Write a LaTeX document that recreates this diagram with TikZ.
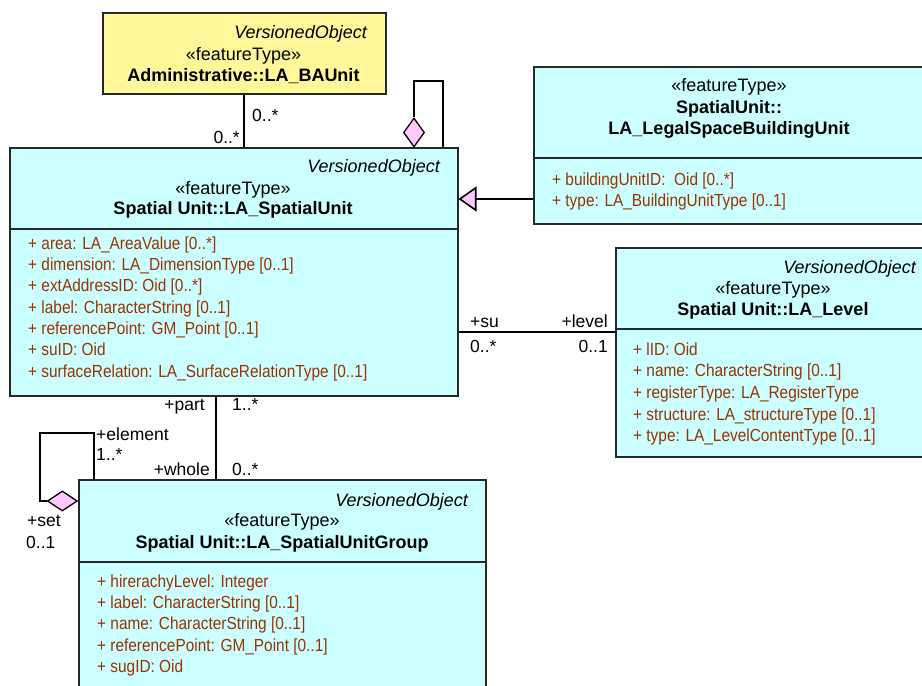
\documentclass[tikz,border=0pt]{standalone}
\usepackage{fontspec}
\setmainfont{Liberation Sans}
\newfontfamily\attrfont[FakeStretch=0.88]{Liberation Sans}
\usepackage{tikz}
\usetikzlibrary{shapes.geometric,arrows.meta,positioning}
\definecolor{ClassCyan}{RGB}{204,255,255}
\definecolor{ClassYellow}{RGB}{255,247,153}
\definecolor{DiamondPink}{RGB}{255,200,255}
\definecolor{AttrBrown}{RGB}{153,51,0}
\definecolor{BorderGray}{RGB}{40,40,40}

\begin{document}
\begin{tikzpicture}[
  x=1pt, y=-1pt,
  classbox/.style={draw=BorderGray, line width=1.5pt, fill=ClassCyan, anchor=north west, inner sep=0pt},
  basebox/.style={classbox, fill=ClassYellow},
  divider/.style={draw=BorderGray, line width=1.5pt},
  parent/.style={font=\fontsize{18}{20}\selectfont\itshape, anchor=base east, inner sep=0pt},
  stereo/.style={font=\fontsize{18}{20}\selectfont, anchor=base, inner sep=0pt},
  cname/.style={font=\fontsize{18}{20}\selectfont\bfseries, anchor=base, inner sep=0pt},
  attr/.style={font=\attrfont\fontsize{17.5}{20}\selectfont, text=AttrBrown, anchor=base west, inner sep=0pt},
  role/.style={font=\fontsize{17.5}{20}\selectfont, inner sep=0pt},
  assoc/.style={line width=1.6pt, black},
  aggdiamond/.style={diamond, draw=black, line width=1.3pt, fill=DiamondPink, inner sep=0pt},
  generalise/.style={assoc, -{Triangle[length=18pt, width=25pt, fill=DiamondPink]}}
]
\useasboundingbox (0,0) rectangle (922,686);

% Administrative::LA_BAUnit
\node[basebox, minimum width=283pt, minimum height=81pt] (ba) at (102,12) {};
\node[parent] (ba-p) at (367,38.3) {VersionedObject};
\node[stereo] (ba-s) at (243.5,60.5) {«featureType»};
\node[cname] (ba-n) at (243.5,81) {Administrative::LA\_BAUnit};

% Spatial Unit::LA_SpatialUnit
\node[classbox, minimum width=448pt, minimum height=248pt] (su) at (9,147) {};
\draw[divider] (su.west |- 0,229) -- (su.east |- 0,229);
\node[parent] (su-p) at (440,172.3) {VersionedObject};
\node[stereo] (su-s) at (233,194.3) {«featureType»};
\node[cname] (su-n) at (233,214.3) {Spatial Unit::LA\_SpatialUnit};
\foreach \t [count=\i] in {%
  {+ area: LA\_AreaValue [0..*]},
  {+ dimension: LA\_DimensionType [0..1]},
  {+ extAddressID: Oid\ [0..*]},
  {+ label: CharacterString [0..1]},
  {+ referencePoint: GM\_Point [0..1]},
  {+ suID: Oid},
  {+ surfaceRelation: LA\_SurfaceRelationType [0..1]}} {
  \node[attr] (su-a\i) at (28,{249.3+21.3*(\i-1)}) {\t};
}

% SpatialUnit::LA_LegalSpaceBuildingUnit
\node[classbox, minimum width=393pt, minimum height=157pt] (lsbu) at (533,66) {};
\draw[divider] (lsbu.west |- 0,158) -- (lsbu.east |- 0,158);
\node[stereo] (lsbu-s) at (729,91.7) {«featureType»};
\node[cname] (lsbu-n1) at (729,113.3) {SpatialUnit::};
\node[cname] (lsbu-n2) at (729,134.3) {LA\_LegalSpaceBuildingUnit};
\foreach \t [count=\i] in {%
  {+ buildingUnitID:\ \ Oid [0..*]},
  {+ type: LA\_BuildingUnitType [0..1]}} {
  \node[attr] (lsbu-a\i) at (552,{185+21.7*(\i-1)}) {\t};
}

% Spatial Unit::LA_Level
\node[classbox, minimum width=316pt, minimum height=209pt] (lvl) at (615,247) {};
\draw[divider] (lvl.west |- 0,329) -- (lvl.east |- 0,329);
\node[parent] (lvl-p) at (916,273.3) {VersionedObject};
\node[stereo] (lvl-s) at (773,294.3) {«featureType»};
\node[cname] (lvl-n) at (773,315) {Spatial Unit::LA\_Level};
\foreach \t [count=\i] in {%
  {+ lID: Oid},
  {+ name: CharacterString [0..1]},
  {+ registerType: LA\_RegisterType},
  {+ structure: LA\_structureType [0..1]},
  {+ type: LA\_LevelContentType [0..1]}} {
  \node[attr] (lvl-a\i) at (633,{355+21.7*(\i-1)}) {\t};
}

% Spatial Unit::LA_SpatialUnitGroup
\node[classbox, minimum width=407pt, minimum height=230pt] (sug) at (78,479) {};
\draw[divider] (sug.west |- 0,562) -- (sug.east |- 0,562);
\node[parent] (sug-p) at (468,506) {VersionedObject};
\node[stereo] (sug-s) at (282,526.7) {«featureType»};
\node[cname] (sug-n) at (282,548.3) {Spatial Unit::LA\_SpatialUnitGroup};
\foreach \t [count=\i] in {%
  {+ hirerachyLevel: Integer},
  {+ label: CharacterString [0..1]},
  {+ name: CharacterString [0..1]},
  {+ referencePoint: GM\_Point [0..1]},
  {+ sugID: Oid}} {
  \node[attr] (sug-a\i) at (97,{587+21.4*(\i-1)}) {\t};
}

% BAUnit -- SpatialUnit
\draw[assoc] (ba.south) -- (ba.south |- su.north);
\node[role, anchor=base west] (ba-m1) at (252,121.7) {0..*};
\node[role, anchor=base east] (ba-m2) at (240,143.3) {0..*};

% SpatialUnit self aggregation
\node[aggdiamond, minimum width=21pt, minimum height=29pt] (su-agg) at (414,132.5) {};
\coordinate (su-loop) at (443,81);
\draw[assoc] (su-agg.north) |- (su-loop) -- (su-loop |- su.north);

% Generalisation
\draw[generalise] (lsbu.west |- 0,199) -- (su.east |- 0,199);

% SpatialUnit -- Level
\draw[assoc] (su.east |- 0,332) -- (lvl.west |- 0,332);
\node[role, anchor=base west] (su-r) at (470,327.3) {+su};
\node[role, anchor=base east] (lvl-r) at (608,327.3) {+level};
\node[role, anchor=base west] (su-m) at (470,352.7) {0..*};
\node[role, anchor=base east] (lvl-m) at (608,352.7) {0..1};

% SpatialUnit -- SpatialUnitGroup
\draw[assoc] (su.south -| 216,0) -- (sug.north -| 216,0);
\node[role, anchor=base east] (part-r) at (205,410.7) {+part};
\node[role, anchor=base west] (part-m) at (232,410.7) {1..*};
\node[role, anchor=base east] (whole-r) at (210,475) {+whole};
\node[role, anchor=base west] (whole-m) at (232,475) {0..*};

% SpatialUnitGroup self aggregation
\node[aggdiamond, minimum width=30pt, minimum height=20pt, anchor=east] (sug-agg) at (sug.west |- 0,501) {};
\coordinate (sug-loop) at (40,433);
\draw[assoc] (sug-agg.west) -| (sug-loop) -| (sug.north -| 94,0);
\node[role, anchor=base west] (elem-r) at (96,440) {+element};
\node[role, anchor=base west] (elem-m) at (96,460) {1..*};
\node[role, anchor=base west] (set-r) at (27,526.7) {+set};
\node[role, anchor=base west] (set-m) at (26,548.3) {0..1};

\end{tikzpicture}
\end{document}
